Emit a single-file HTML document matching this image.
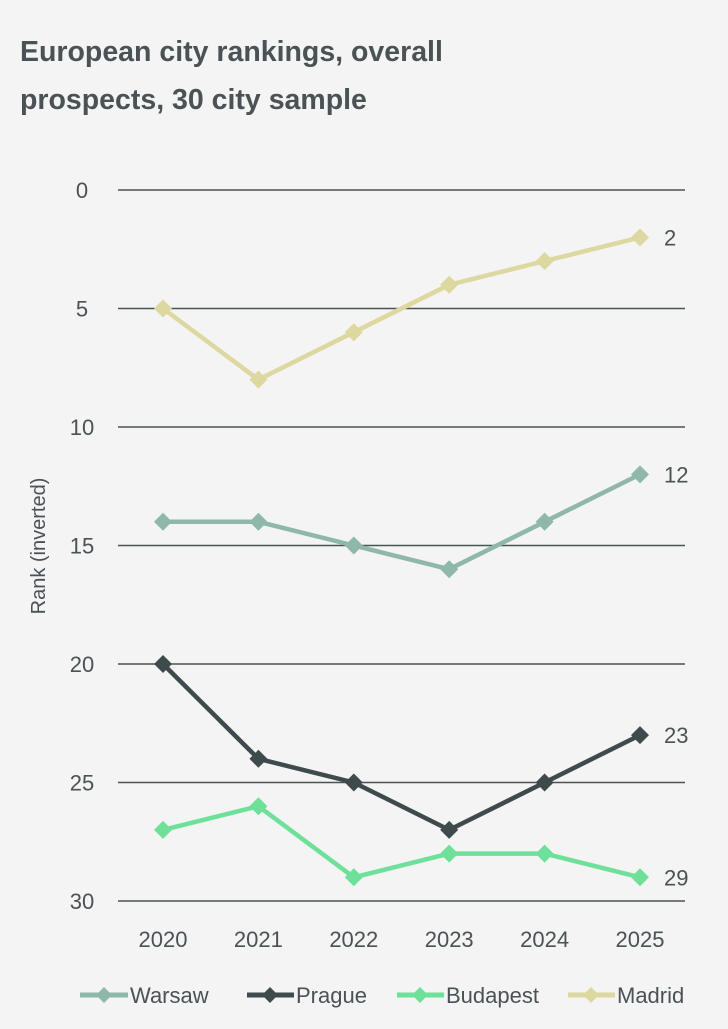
<!DOCTYPE html>
<html><head><meta charset="utf-8"><style>
body{margin:0;background:#f3f4f3;width:728px;height:1024px;overflow:hidden;font-family:"Liberation Sans",sans-serif}
</style></head><body>
<svg width="728" height="1024">
<text x="20" y="61" font-size="28.5" font-weight="bold" fill="#4a5255">European city rankings, overall</text>
<text x="20" y="109" font-size="28.5" font-weight="bold" fill="#4a5255">prospects, 30 city sample</text>
<text transform="translate(45,546) rotate(-90)" text-anchor="middle" font-size="20" fill="#4a5255">Rank (inverted)</text>
<g id="grid"></g><g id="plot"></g>
<g font-size="22" fill="#4a5255">
<g><line x1="80" y1="995" x2="128" y2="995" stroke="#8fb8aa" stroke-width="5"/><path d="M104 987l8 8-8 8-8-8z" fill="#8fb8aa"/><text x="130" y="1003">Warsaw</text></g>
<g><line x1="247" y1="995" x2="294" y2="995" stroke="#3f4a4c" stroke-width="5"/><path d="M270 987l8 8-8 8-8-8z" fill="#3f4a4c"/><text x="296" y="1003">Prague</text></g>
<g><line x1="397" y1="995" x2="444" y2="995" stroke="#6ee09a" stroke-width="5"/><path d="M420 987l8 8-8 8-8-8z" fill="#6ee09a"/><text x="446" y="1003">Budapest</text></g>
<g><line x1="568" y1="995" x2="615" y2="995" stroke="#ddd7a0" stroke-width="5"/><path d="M591 987l8 8-8 8-8-8z" fill="#ddd7a0"/><text x="617" y="1003">Madrid</text></g>
</g>
</svg>
<script>
const years=["2020","2021","2022","2023","2024","2025"];
const yTicks=[0,5,10,15,20,25,30];
const warsaw=[14,14,15,16,14,12];
const prague=[20,24,25,27,25,23];
const budapest=[27,26,29,28,28,29];
const madrid=[5,8,6,4,3,2];
const NS="http://www.w3.org/2000/svg";
const xS=i=>163+i*95.4;
const yS=v=>190+v*23.7;
const grid=document.getElementById('grid'),plot=document.getElementById('plot');
function mk(tag,attrs,parent){const e=document.createElementNS(NS,tag);for(const k in attrs)e.setAttribute(k,attrs[k]);parent.appendChild(e);return e;}
yTicks.forEach(t=>{
 const l=mk('line',{x1:118,x2:685,y1:yS(t),y2:yS(t),stroke:'#4a5255','stroke-width':1.5},grid);
 
 
 const tx=mk('text',{x:82,y:yS(t)+8,'text-anchor':'middle','font-size':22,fill:'#4a5255'},grid);
 tx.textContent=t;
 
 
});
years.forEach((y,i)=>{
 const tx=mk('text',{x:xS(i),y:947,'text-anchor':'middle','font-size':22,fill:'#4a5255'},grid);
 tx.textContent=y;
 
 
});
function series(vals,color,name){
 const g=mk('g',{},plot);
 
 
 const p=mk('polyline',{points:vals.map((v,i)=>xS(i)+','+yS(v)).join(' '),fill:'none',stroke:color,'stroke-width':4.5,'stroke-linejoin':'round'},g);
 
 
 vals.forEach((v,i)=>{
  const x=xS(i),y=yS(v);
  const m=mk('path',{d:`M${x} ${y-9}l9 9-9 9-9-9z`,fill:color},g);
  
  
 });
 const last=vals[vals.length-1];
 const lb=mk('text',{x:xS(vals.length-1)+24,y:yS(last)+8,'font-size':22,fill:'#4a5255'},g);
 lb.textContent=last;
 
 
}
series(madrid,'#ddd7a0','madrid');
series(warsaw,'#8fb8aa','warsaw');
series(budapest,'#6ee09a','budapest');
series(prague,'#3f4a4c','prague');
</script>
</body></html>
